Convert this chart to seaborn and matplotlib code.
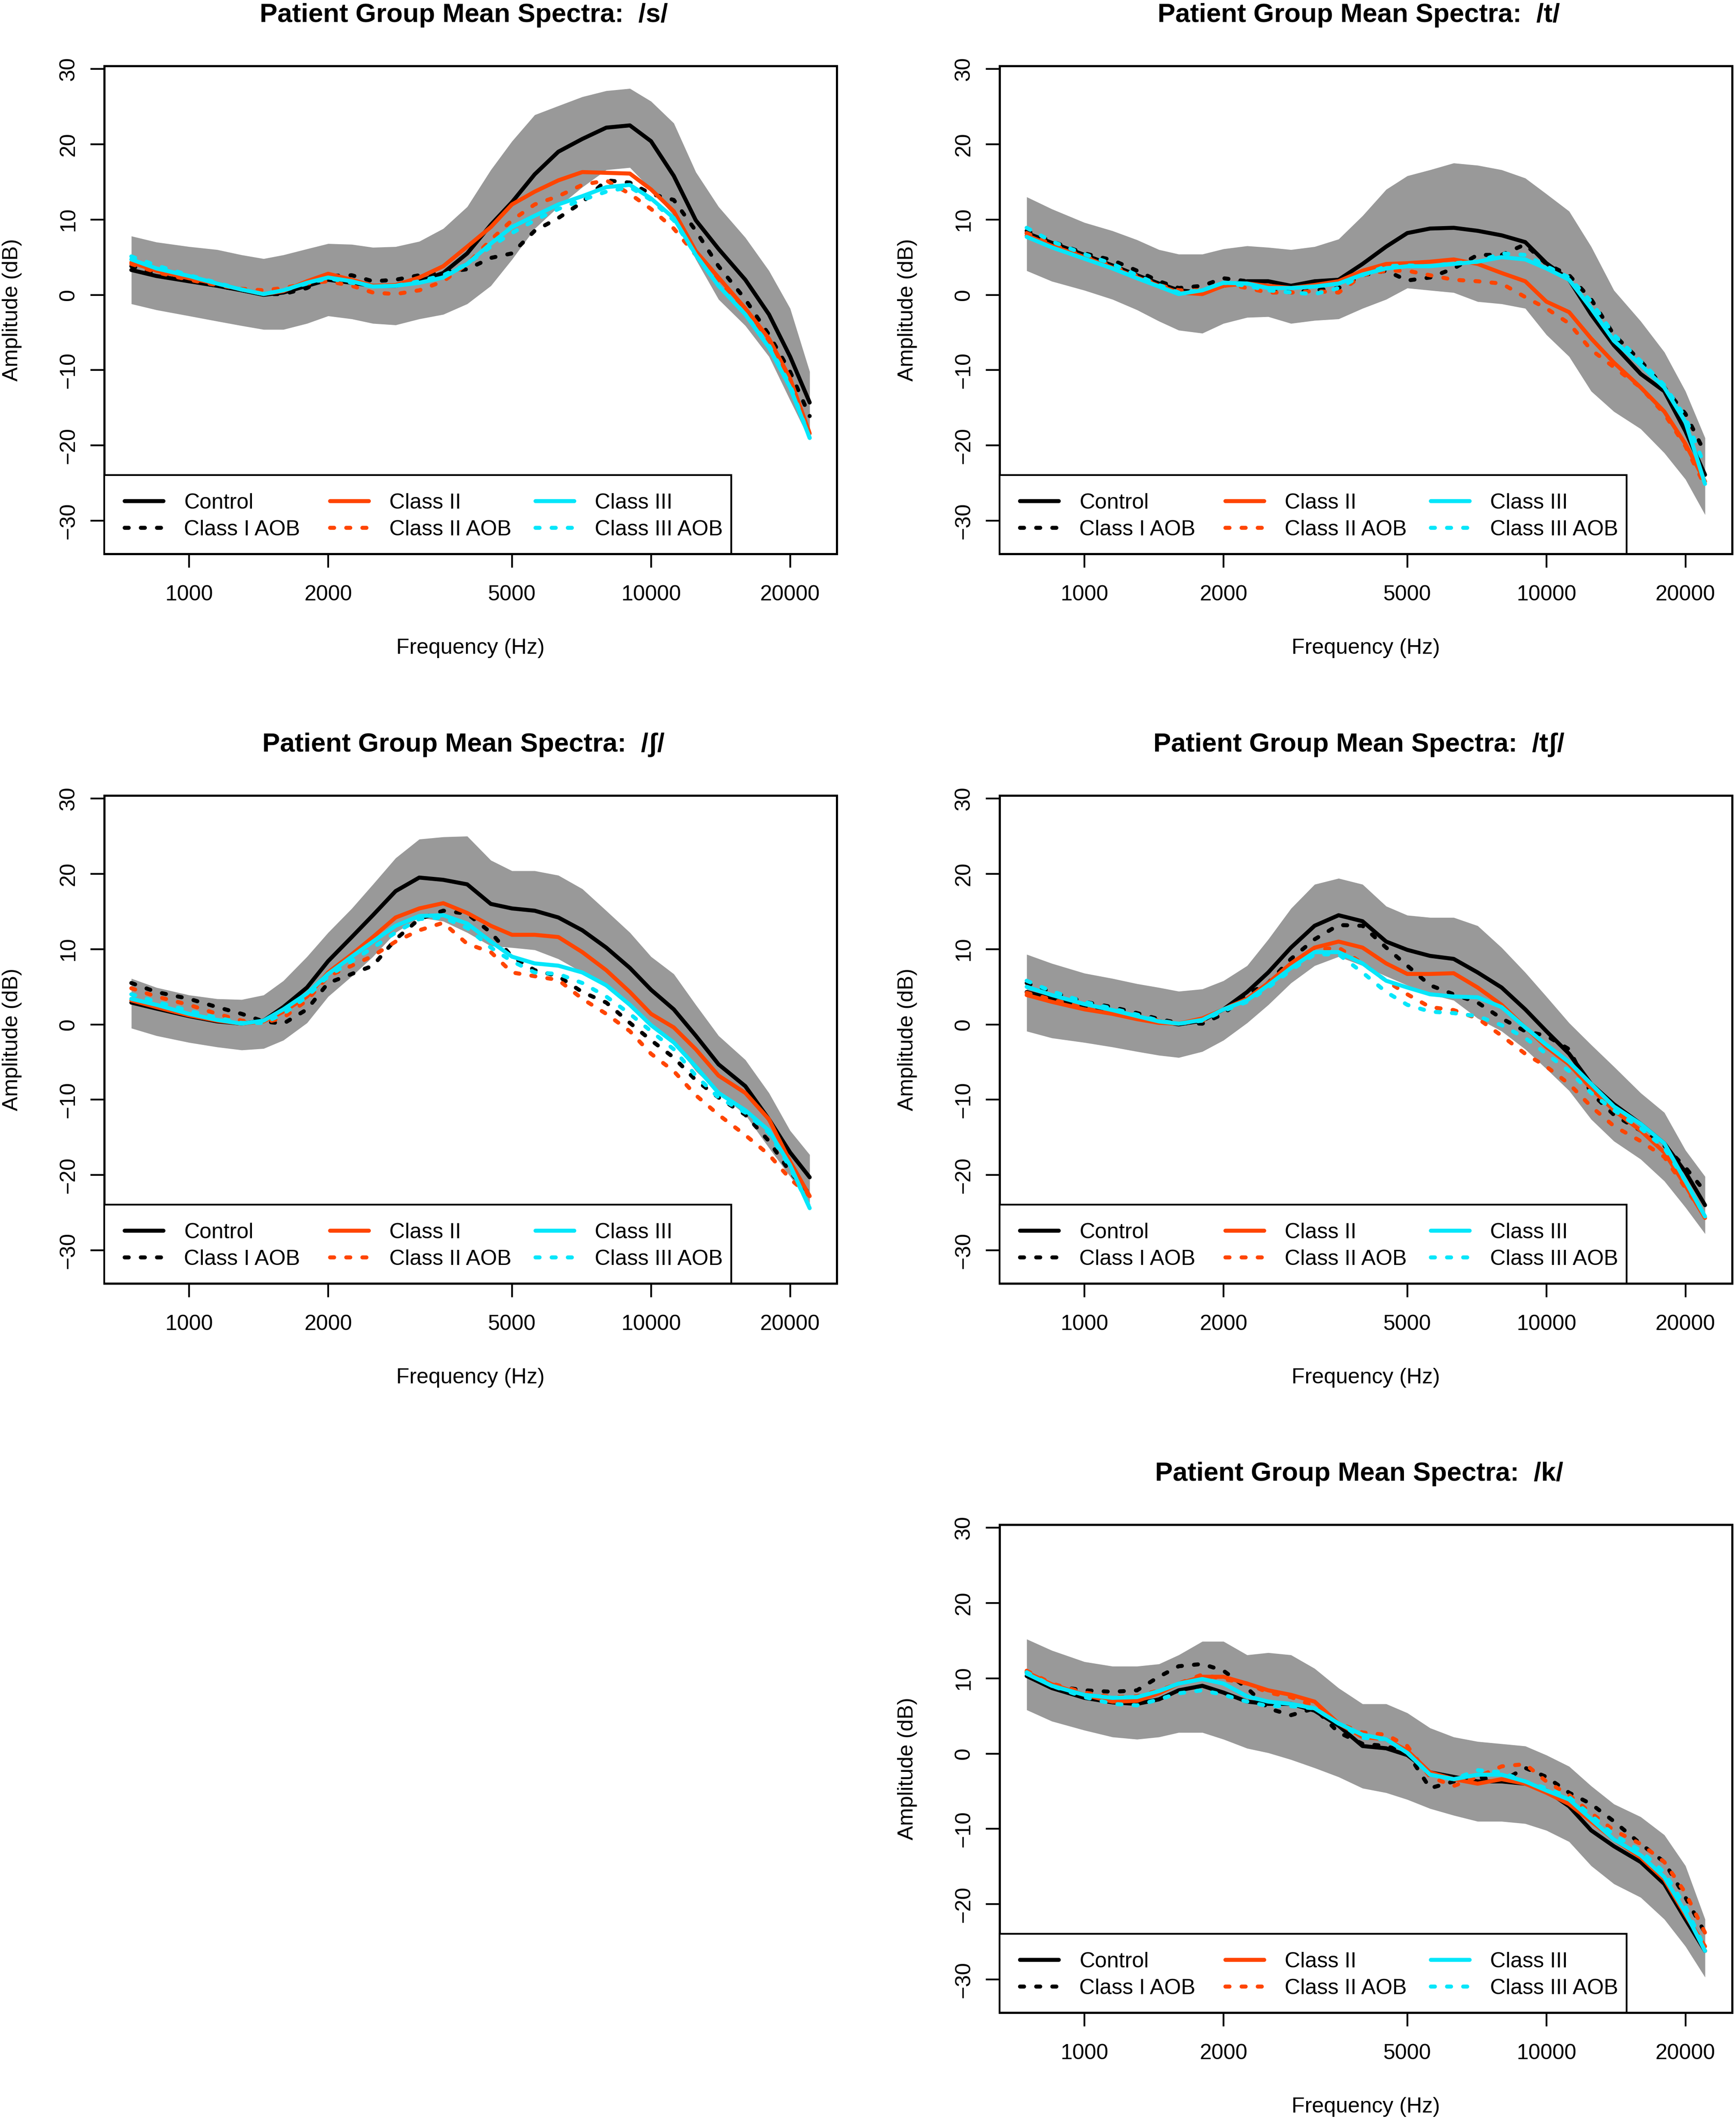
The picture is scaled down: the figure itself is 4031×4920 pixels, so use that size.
import matplotlib
matplotlib.use("Agg")
import matplotlib.pyplot as plt
import seaborn as sns
import pandas as pd
from matplotlib.patches import Rectangle
from matplotlib.ticker import NullLocator

# ---------------- data ----------------
freq = [750, 850, 1000, 1150, 1300, 1450, 1600, 1800, 2000, 2250, 2500, 2800,
        3150, 3550, 4000, 4500, 5000, 5600, 6300, 7100, 8000, 9000, 10000,
        11200, 12500, 14000, 16000, 18000, 20000, 22050]

groups = ["Control", "Class I AOB", "Class II", "Class II AOB", "Class III", "Class III AOB"]
phonemes = ["s", "t", "ʃ", "tʃ", "k"]
x_ticks = [1000, 2000, 5000, 10000, 20000]
x_tick_labels = ["1000", "2000", "5000", "10000", "20000"]
y_ticks = [-30, -20, -10, 0, 10, 20, 30]

# /s/
s_control = [3.3, 2.5, 1.8, 1.2, 0.6, 0.0, 0.3, 1.2, 2.0, 1.6, 1.2, 1.2, 1.8, 2.9, 5.5, 9.3, 12.3, 16.0, 19.0, 20.7, 22.2, 22.5, 20.4, 15.8, 9.9, 6.1, 2.0, -2.6, -8.2, -14.3]
s_class1_aob = [3.8, 2.8, 1.9, 1.2, 0.6, 0.1, 0.1, 0.9, 2.5, 2.6, 1.8, 2.0, 2.6, 3.0, 3.4, 4.9, 5.5, 8.5, 10.2, 12.3, 15.2, 14.9, 13.4, 12.6, 8.5, 3.8, -0.6, -5.3, -10.2, -16.1]
s_class2 = [4.3, 3.2, 2.2, 1.5, 0.7, 0.1, 0.5, 1.8, 2.8, 2.0, 1.2, 1.3, 2.3, 3.8, 6.4, 9.0, 12.0, 13.7, 15.2, 16.3, 16.2, 16.1, 14.0, 11.1, 5.8, 2.3, -1.8, -5.8, -11.1, -18.4]
s_class2_aob = [4.1, 3.0, 2.0, 1.3, 0.8, 0.6, 0.9, 1.5, 1.8, 1.2, 0.3, 0.1, 0.6, 1.8, 4.1, 7.3, 9.9, 12.0, 13.1, 14.6, 15.2, 13.4, 11.4, 8.8, 5.3, 1.8, -2.0, -6.1, -11.4, -18.4]
s_class3 = [4.7, 3.5, 2.5, 1.5, 0.7, 0.1, 0.6, 1.6, 2.3, 1.8, 1.1, 1.2, 1.6, 2.3, 4.1, 6.8, 9.0, 10.5, 12.0, 13.1, 14.3, 14.6, 12.8, 10.2, 5.3, 1.2, -2.6, -7.0, -12.3, -19.0]
s_class3_aob = [5.1, 3.9, 2.6, 1.6, 0.7, 0.1, 0.6, 1.5, 2.2, 1.6, 1.1, 1.2, 1.8, 2.6, 4.1, 6.4, 8.2, 9.9, 11.4, 12.6, 13.7, 14.3, 12.6, 9.9, 5.3, 1.2, -2.6, -6.7, -12.0, -19.0]
s_upper = [7.8, 7.0, 6.4, 6.0, 5.3, 4.8, 5.3, 6.1, 6.8, 6.7, 6.3, 6.4, 7.1, 8.8, 11.7, 16.6, 20.4, 23.9, 25.1, 26.3, 27.1, 27.4, 25.7, 22.8, 16.3, 11.7, 7.6, 3.2, -1.8, -10.2]
s_lower = [-1.2, -2.0, -2.8, -3.5, -4.1, -4.6, -4.6, -3.8, -2.8, -3.2, -3.8, -4.0, -3.2, -2.6, -1.2, 1.2, 4.7, 8.8, 11.7, 14.3, 16.6, 16.9, 14.0, 10.5, 4.7, -0.6, -4.1, -8.2, -14.0, -19.3]

# /t/
t_control = [8.2, 6.9, 5.3, 3.9, 2.6, 1.5, 0.6, 0.3, 1.2, 1.8, 1.8, 1.2, 1.8, 2.0, 4.1, 6.4, 8.2, 8.8, 8.9, 8.5, 7.9, 7.0, 4.2, 2.0, -2.6, -6.7, -10.5, -12.8, -18.1, -23.9]
t_class1_aob = [8.5, 7.1, 5.5, 4.6, 3.2, 1.8, 0.9, 1.2, 2.2, 1.8, 0.9, 0.3, 0.6, 0.9, 2.6, 3.2, 1.9, 2.3, 3.5, 5.3, 5.3, 6.7, 4.1, 2.6, -0.6, -5.3, -8.8, -12.3, -15.8, -21.0]
t_class2 = [7.9, 6.5, 5.0, 3.6, 2.3, 1.2, 0.3, 0.1, 1.2, 1.5, 1.2, 0.9, 1.3, 1.8, 3.2, 4.1, 4.2, 4.4, 4.7, 4.1, 2.9, 1.8, -0.9, -2.3, -5.8, -9.0, -12.3, -15.5, -19.8, -24.8]
t_class2_aob = [8.2, 6.7, 5.1, 3.8, 2.5, 1.3, 0.6, 0.6, 1.5, 0.9, 0.3, 0.3, 0.5, 0.3, 2.6, 3.2, 3.2, 2.6, 2.0, 1.8, 1.5, -0.3, -1.8, -3.8, -7.3, -9.6, -12.3, -15.8, -20.1, -25.4]
t_class3 = [7.7, 6.3, 4.8, 3.5, 2.2, 1.1, 0.1, 0.6, 1.6, 1.5, 0.9, 0.9, 1.1, 1.5, 2.7, 3.5, 3.8, 3.8, 4.1, 4.4, 5.0, 4.7, 3.5, 2.0, -1.8, -6.1, -9.3, -12.3, -16.9, -25.1]
t_class3_aob = [8.9, 7.1, 5.4, 4.1, 2.6, 1.3, 0.3, 0.6, 1.6, 1.2, 0.6, 0.3, 0.1, 0.9, 2.6, 3.8, 3.9, 3.8, 4.2, 4.4, 5.5, 5.3, 3.8, 2.3, -0.9, -5.3, -8.8, -12.0, -16.3, -22.8]
t_upper = [13.0, 11.4, 9.6, 8.5, 7.3, 6.0, 5.4, 5.4, 6.1, 6.5, 6.3, 6.0, 6.4, 7.4, 10.5, 14.0, 15.8, 16.6, 17.5, 17.2, 16.6, 15.5, 13.4, 11.1, 6.4, 0.6, -3.5, -7.6, -12.8, -19.0]
t_lower = [3.2, 1.8, 0.6, -0.6, -2.0, -3.5, -4.7, -5.1, -3.8, -3.0, -2.9, -3.8, -3.4, -3.2, -1.8, -0.6, 0.9, 0.6, 0.3, -0.9, -1.2, -1.8, -5.3, -8.2, -12.8, -15.5, -17.8, -21.0, -24.5, -29.2]

# /ʃ/
sh_control = [2.9, 2.1, 1.1, 0.4, 0.1, 0.5, 2.3, 4.9, 8.4, 11.6, 14.5, 17.7, 19.5, 19.2, 18.6, 16.0, 15.4, 15.1, 14.2, 12.5, 10.2, 7.5, 4.6, 2.0, -1.5, -5.3, -8.2, -12.6, -17.0, -20.3]
sh_class1_aob = [5.5, 4.3, 3.4, 2.3, 1.4, 0.4, 0.1, 2.0, 5.5, 6.7, 7.8, 11.3, 14.0, 15.1, 14.7, 12.2, 9.0, 7.2, 6.4, 4.3, 2.9, 0.2, -2.1, -4.4, -7.4, -9.7, -12.0, -15.5, -19.6, -22.5]
sh_class2 = [3.2, 2.3, 1.2, 0.5, 0.1, 0.4, 1.7, 3.7, 6.9, 9.3, 11.6, 14.2, 15.4, 16.1, 14.8, 13.1, 11.9, 11.9, 11.6, 9.6, 7.2, 4.3, 1.4, -0.4, -3.3, -6.8, -9.1, -12.6, -18.2, -22.8]
sh_class2_aob = [4.8, 3.7, 2.6, 1.4, 0.5, 0.2, 0.9, 3.2, 6.4, 7.8, 9.1, 11.0, 12.5, 13.5, 10.7, 9.6, 6.9, 6.4, 5.9, 3.4, 1.4, -0.9, -3.9, -6.2, -9.4, -12.0, -14.7, -17.3, -20.5, -22.8]
sh_class3 = [3.4, 2.6, 1.4, 0.6, 0.1, 0.5, 2.0, 4.1, 6.7, 9.0, 11.0, 13.1, 14.4, 14.5, 13.4, 11.0, 9.0, 8.1, 7.8, 6.9, 5.2, 2.6, -0.1, -2.4, -5.6, -9.1, -11.4, -14.1, -18.7, -24.4]
sh_class3_aob = [4.0, 3.0, 1.8, 0.9, 0.2, 0.2, 1.4, 3.7, 6.4, 8.4, 10.2, 12.2, 14.0, 14.2, 12.8, 10.2, 8.4, 6.9, 6.7, 5.5, 3.7, 1.4, -0.9, -3.3, -6.8, -9.7, -11.7, -14.4, -19.0, -24.3]
sh_upper = [6.1, 4.9, 3.9, 3.4, 3.3, 3.9, 5.8, 9.0, 12.2, 15.4, 18.6, 22.1, 24.6, 24.9, 25.0, 21.8, 20.4, 20.4, 19.8, 18.0, 15.1, 12.2, 9.0, 6.7, 2.6, -1.5, -4.7, -9.1, -14.1, -17.3]
sh_lower = [-0.5, -1.5, -2.4, -3.0, -3.4, -3.2, -2.1, 0.2, 3.7, 6.4, 9.0, 12.2, 14.2, 13.7, 12.2, 10.4, 10.2, 9.9, 8.7, 6.9, 4.9, 2.6, 0.2, -2.4, -6.2, -9.1, -12.0, -16.4, -20.2, -23.7]

# /tʃ/
tsh_control = [4.3, 3.4, 2.5, 1.7, 0.9, 0.4, 0.0, 0.5, 2.0, 4.3, 6.9, 10.2, 13.1, 14.5, 13.7, 11.0, 9.9, 9.1, 8.7, 6.9, 4.9, 2.0, -0.9, -3.9, -7.9, -10.6, -13.2, -15.8, -19.6, -24.0]
tsh_class1_aob = [5.5, 4.3, 3.0, 2.3, 1.5, 0.7, 0.2, 0.1, 1.4, 4.0, 5.5, 8.7, 11.3, 13.2, 13.1, 10.2, 7.8, 5.2, 4.0, 2.9, 0.8, -0.9, -1.5, -3.3, -9.1, -12.0, -14.1, -16.1, -19.0, -22.2]
tsh_class2 = [3.9, 3.0, 2.0, 1.4, 0.7, 0.2, 0.1, 0.8, 2.0, 3.4, 5.5, 8.1, 10.2, 11.0, 10.2, 8.1, 6.7, 6.7, 6.8, 4.9, 2.6, -0.4, -3.0, -5.3, -8.5, -11.4, -14.1, -17.0, -21.4, -25.7]
tsh_class2_aob = [4.2, 3.3, 2.3, 1.6, 1.1, 0.5, 0.1, 0.5, 2.0, 3.4, 5.5, 7.8, 9.9, 10.2, 8.1, 5.8, 4.0, 2.3, 1.9, 0.8, -1.5, -3.9, -5.6, -7.9, -10.9, -13.5, -15.5, -17.6, -21.7, -25.5]
tsh_class3 = [5.0, 3.9, 2.7, 1.9, 1.1, 0.4, 0.1, 0.6, 2.0, 3.2, 5.2, 7.5, 9.6, 9.6, 8.1, 5.8, 4.9, 4.0, 3.7, 3.6, 2.3, -0.4, -2.7, -5.0, -7.9, -10.9, -13.2, -15.8, -20.8, -25.5]
tsh_class3_aob = [5.8, 4.4, 3.0, 2.1, 1.3, 0.5, 0.1, 0.5, 1.8, 3.0, 4.9, 7.2, 9.3, 9.3, 6.9, 4.3, 2.6, 1.7, 1.5, 1.1, -0.1, -1.8, -3.9, -6.2, -9.1, -11.4, -13.8, -16.4, -20.8, -25.5]
tsh_upper = [9.3, 8.1, 6.8, 6.1, 5.4, 4.9, 4.4, 4.7, 5.8, 7.8, 11.3, 15.4, 18.6, 19.4, 18.6, 15.7, 14.5, 14.2, 14.2, 13.1, 10.2, 6.9, 3.7, 0.2, -2.7, -5.6, -9.1, -11.7, -16.7, -20.2]
tsh_lower = [-0.9, -1.8, -2.4, -3.0, -3.6, -4.1, -4.4, -3.6, -2.1, 0.2, 2.6, 5.5, 7.8, 9.0, 7.8, 6.4, 5.2, 4.0, 3.2, 0.8, -0.9, -3.3, -5.9, -8.8, -12.6, -15.5, -17.9, -20.8, -24.3, -27.8]

# /k/
k_control = [10.3, 8.7, 7.4, 6.8, 6.6, 7.2, 8.4, 9.0, 8.1, 6.9, 6.6, 6.6, 5.7, 3.7, 1.0, 0.7, -0.2, -2.5, -3.1, -3.7, -3.7, -4.0, -4.9, -7.0, -10.2, -12.3, -14.4, -17.3, -22.0, -26.2]
k_class1_aob = [10.8, 9.0, 8.4, 8.2, 8.4, 10.2, 11.6, 11.9, 11.0, 8.7, 6.0, 5.1, 6.0, 2.8, 1.3, 1.0, 0.1, -4.6, -3.7, -3.1, -3.7, -1.9, -3.1, -5.2, -6.7, -9.0, -12.0, -14.4, -19.1, -23.8]
k_class2 = [10.8, 9.2, 7.8, 6.9, 7.0, 8.0, 9.3, 10.2, 10.2, 9.3, 8.4, 7.8, 6.9, 4.0, 2.2, 1.9, 0.4, -2.5, -3.4, -4.0, -3.4, -4.0, -5.2, -6.7, -9.0, -11.4, -13.8, -16.7, -21.4, -25.6]
k_class2_aob = [11.0, 9.3, 8.1, 7.5, 7.6, 8.4, 9.3, 10.5, 9.9, 9.3, 8.1, 7.5, 6.3, 4.0, 2.8, 2.5, 1.0, -3.1, -4.3, -3.1, -1.7, -1.4, -3.7, -5.5, -7.9, -10.2, -12.0, -14.4, -18.5, -23.8]
k_class3 = [10.6, 9.0, 7.8, 7.4, 7.5, 8.3, 9.3, 9.9, 9.3, 7.6, 6.9, 6.6, 6.0, 4.0, 2.5, 1.9, 0.1, -2.8, -3.4, -2.8, -2.8, -3.7, -4.9, -6.1, -8.7, -11.4, -13.5, -16.4, -21.1, -26.2]
k_class3_aob = [10.8, 9.0, 7.5, 6.6, 6.4, 7.2, 8.0, 8.4, 7.8, 6.9, 6.3, 6.3, 6.0, 4.0, 2.1, 1.9, 0.1, -2.8, -3.4, -2.2, -2.5, -3.7, -4.6, -5.8, -8.2, -10.8, -12.9, -15.8, -20.3, -25.9]
k_upper = [15.2, 13.7, 12.2, 11.6, 11.6, 11.9, 13.1, 14.9, 14.9, 13.1, 13.4, 13.1, 11.3, 8.7, 6.6, 6.6, 5.4, 3.4, 2.2, 1.6, 1.3, 1.0, -0.2, -1.7, -4.3, -6.7, -8.4, -10.8, -14.9, -22.0]
k_lower = [5.8, 4.3, 3.1, 2.2, 1.9, 2.2, 2.8, 2.8, 1.9, 0.7, 0.1, -0.8, -1.9, -3.1, -4.6, -5.2, -6.1, -7.3, -8.2, -9.0, -9.0, -9.3, -10.2, -11.7, -14.9, -17.3, -19.1, -22.0, -25.6, -29.7]

curves = {
    "s": [s_control, s_class1_aob, s_class2, s_class2_aob, s_class3, s_class3_aob],
    "t": [t_control, t_class1_aob, t_class2, t_class2_aob, t_class3, t_class3_aob],
    "ʃ": [sh_control, sh_class1_aob, sh_class2, sh_class2_aob, sh_class3, sh_class3_aob],
    "tʃ": [tsh_control, tsh_class1_aob, tsh_class2, tsh_class2_aob, tsh_class3, tsh_class3_aob],
    "k": [k_control, k_class1_aob, k_class2, k_class2_aob, k_class3, k_class3_aob],
}
bands = {
    "s": (s_lower, s_upper),
    "t": (t_lower, t_upper),
    "ʃ": (sh_lower, sh_upper),
    "tʃ": (tsh_lower, tsh_upper),
    "k": (k_lower, k_upper),
}

rows = []
for ph in phonemes:
    for g, vals in zip(groups, curves[ph]):
        for f, v in zip(freq, vals):
            rows.append({"phoneme": ph, "group": g, "freq": f, "amp": v})
df = pd.DataFrame(rows)

# ---------------- styling ----------------
sns.set_theme(style="white")
plt.rcParams['font.family'] = ['Liberation Sans', 'DejaVu Sans']
plt.rcParams['axes.unicode_minus'] = True
plt.rcParams['axes.edgecolor'] = 'black'
plt.rcParams['text.color'] = 'black'
plt.rcParams['axes.labelcolor'] = 'black'
plt.rcParams['xtick.color'] = 'black'
plt.rcParams['ytick.color'] = 'black'

ORANGE = "#FF4500"
CYAN = "#05E6FA"
GREY = "#999999"
colors = ["black", "black", ORANGE, ORANGE, CYAN, CYAN]
dotted = [False, True, False, True, False, True]
LW = 2.25
DOT = (0, (1, 3))

W, H = 4031, 4920
fig = plt.figure(figsize=(W / 300, H / 300), dpi=300)

ax_w = 1701 / W
ax_h = 1133 / H
left_x = 242 / W
right_x = 2321 / W
row_b = [1 - 1286 / H, 1 - 2980 / H, 1 - 4673 / H]
positions = [(left_x, row_b[0]), (right_x, row_b[0]),
             (left_x, row_b[1]), (right_x, row_b[1]),
             (right_x, row_b[2])]

FS = 12
for ph, (x0, y0) in zip(phonemes, positions):
    ax = fig.add_axes([x0, y0, ax_w, ax_h])
    ax.set_facecolor("white")
    lo, hi = bands[ph]
    ax.fill_between(freq, lo, hi, color=GREY, lw=0, zorder=1)
    sub = df[df["phoneme"] == ph]
    for g, c, d in zip(groups, colors, dotted):
        gd = sub[sub["group"] == g]
        sns.lineplot(data=gd, x="freq", y="amp", ax=ax, color=c, lw=LW,
                     linestyle=DOT if d else "-", estimator=None, sort=False,
                     legend=False, dash_capstyle="round", solid_capstyle="round",
                     solid_joinstyle="round", dash_joinstyle="round", zorder=3)
    ax.set_xscale("log")
    ax.set_xlim(655.2, 25240)
    ax.set_ylim(-34.4, 30.4)
    ax.set_xticks(x_ticks)
    ax.set_xticklabels(x_tick_labels)
    ax.xaxis.set_minor_locator(NullLocator())
    ax.set_yticks(y_ticks)
    ax.set_yticklabels([str(v).replace("-", "\u2212") for v in y_ticks])
    for sp in ax.spines.values():
        sp.set_visible(True)
        sp.set_linewidth(1.2)
        sp.set_color("black")
    ax.tick_params(axis="both", which="major", direction="out", length=7.7,
                   width=1.0, labelsize=FS, left=True, bottom=True)
    ax.tick_params(axis="x", pad=9.5)
    ax.tick_params(axis="y", pad=6.6, labelrotation=90)
    for lab in ax.get_yticklabels():
        lab.set_va("center")
    ax.set_xlabel("Frequency (Hz)", fontsize=FS)
    ax.set_ylabel("Amplitude (dB)", fontsize=FS)
    ax.xaxis.set_label_coords(0.5, -0.1728)
    ax.yaxis.set_label_coords(-0.1123, 0.5)
    ax.set_title(f"Patient Group Mean Spectra:  /{ph}/", fontsize=14.8,
                 fontweight="bold", pad=24.5, x=0.4906)

    # legend box (R-style, bottom-left, 3 columns)
    ax.add_patch(Rectangle((0, 0), 0.856, 0.1615, transform=ax.transAxes,
                           facecolor="white", edgecolor="black", lw=1.0,
                           zorder=5, clip_on=False))
    for i, (g, c, d) in enumerate(zip(groups, colors, dotted)):
        col, row = i // 2, i % 2
        yy = 0.1086 if row == 0 else 0.0538
        dx = col * 0.2804
        ax.plot([0.0276 + dx, 0.0805 + dx], [yy, yy], transform=ax.transAxes,
                color=c, lw=LW, linestyle=DOT if d else "-",
                dash_capstyle="round", solid_capstyle="round", zorder=6,
                clip_on=False)
        ax.text(0.1088 + dx, yy, g, transform=ax.transAxes, fontsize=FS,
                ha="left", va="center_baseline", zorder=7)

fig.savefig("out.png", dpi=300)
